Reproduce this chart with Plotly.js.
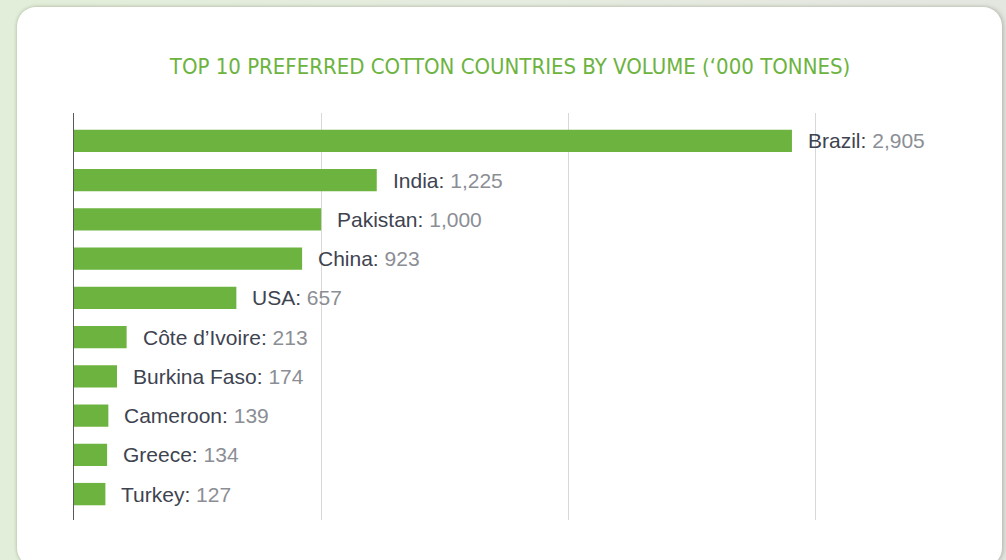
<!DOCTYPE html>
<html>
<head>
<meta charset="utf-8">
<script src="https://cdn.plot.ly/plotly-3.0.1.min.js"></script>
<style>
  html, body { margin: 0; padding: 0; width: 1006px; height: 560px; overflow: hidden;
    background: linear-gradient(90deg, #e2eed9 0%, #e6ece0 50%, #e4e6e0 100%); }
  #card { position: absolute; left: 17px; top: 7px; width: 985px; height: 560px;
    background: #ffffff; border-radius: 19px;
    box-shadow: 2px 0 4px rgba(120,120,110,0.35), -1px 0 3px rgba(140,160,120,0.35); }
  #chart { position: absolute; left: 0; top: 0; width: 1006px; height: 560px; }
</style>
</head>
<body>
<div id="card"></div>
<div id="chart"></div>
<script>
const countries = ["Brazil", "India", "Pakistan", "China", "USA", "Côte d’Ivoire", "Burkina Faso", "Cameroon", "Greece", "Turkey"];
const volumes = [2905, 1225, 1000, 923, 657, 213, 174, 139, 134, 127];
const chartTitle = "TOP 10 PREFERRED COTTON COUNTRIES BY VOLUME (‘000 TONNES)";

const nameColor = "#3e4350";
const valueColor = "#8b8e94";
const fontFam = "'Helvetica Neue', 'Liberation Sans', Arial, sans-serif";

const trace = {
  type: "bar",
  orientation: "h",
  x: volumes,
  y: countries,
  marker: { color: "#6db33f" },
  width: 0.57,
  hoverinfo: "skip"
};

const annotations = countries.map((c, i) => ({
  x: volumes[i],
  y: c,
  xref: "x",
  yref: "y",
  xanchor: "left",
  yanchor: "middle",
  xshift: 14,
  showarrow: false,
  text: "<span style='color:" + nameColor + "'>" + c + ":</span> <span style='color:" + valueColor + "'>" + volumes[i].toLocaleString("en-US") + "</span>",
  font: { family: fontFam, size: 21, color: nameColor }
}));

const layout = {
  width: 1006,
  height: 560,
  paper_bgcolor: "rgba(0,0,0,0)",
  plot_bgcolor: "rgba(0,0,0,0)",
  margin: { l: 74, r: 67, t: 113, b: 40 },
  showlegend: false,
  title: {
    text: chartTitle,
    font: { family: "'Liberation Sans Narrow', 'DejaVu Sans Condensed', 'Liberation Sans', sans-serif", size: 22, color: "#6db33f" },
    xref: "container", yref: "container",
    x: 0.507, y: 0.882, xanchor: "center", yanchor: "middle"
  },
  xaxis: {
    range: [0, 3500],
    dtick: 1000,
    showgrid: true,
    gridcolor: "#d8d8d8",
    gridwidth: 1,
    zeroline: false,
    showticklabels: false,
    ticks: "",
    fixedrange: true
  },
  yaxis: {
    type: "category",
    range: [9.66, -0.71],
    showline: true,
    linecolor: "#5a5a5a",
    linewidth: 1.5,
    showgrid: false,
    showticklabels: false,
    ticks: "",
    zeroline: false,
    fixedrange: true
  },
  annotations: annotations
};

Plotly.newPlot("chart", [trace], layout, { displayModeBar: false, staticPlot: true });
</script>
</body>
</html>
